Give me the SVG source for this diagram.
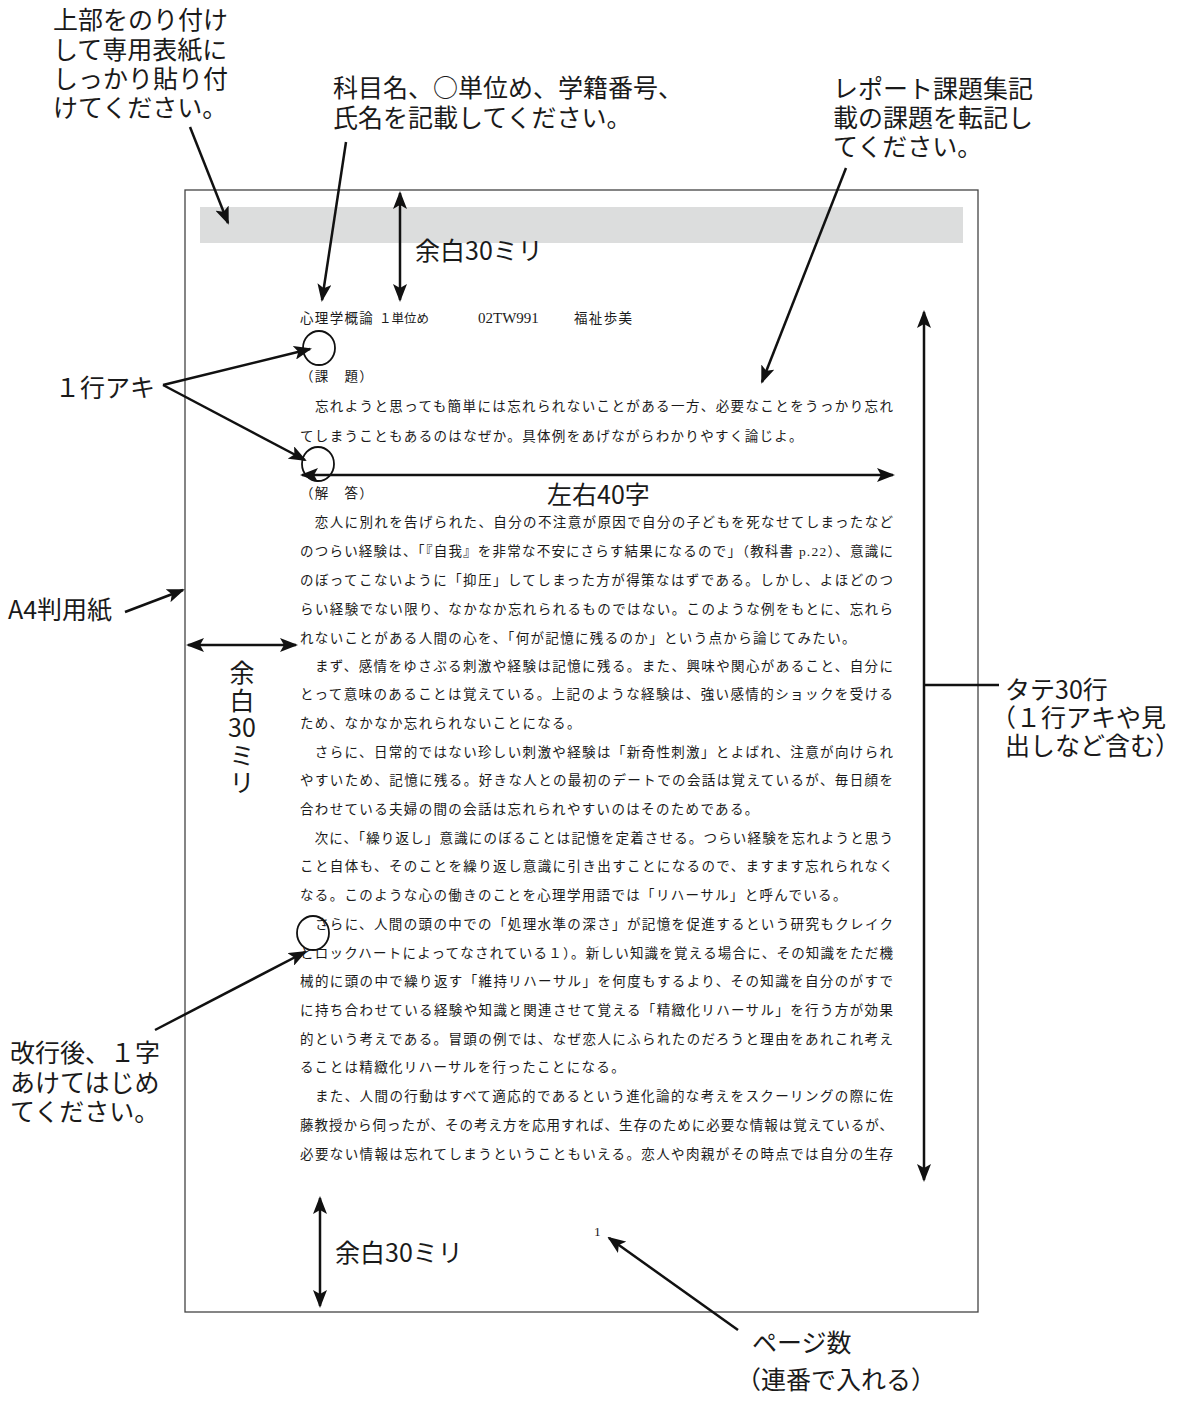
<svg xmlns="http://www.w3.org/2000/svg" width="1188" height="1411" viewBox="0 0 1188 1411">
<style>
.ann{font-family:"Noto Sans CJK JP","Noto Sans",sans-serif;font-size:25px;fill:#1a1a1a}
.body{font-family:"Liberation Serif","Noto Sans CJK JP",serif;font-size:13.5px;fill:#1a1a1a}
.part{letter-spacing:1.33px}
.ln{stroke:#111;stroke-width:2.5;fill:none}
.circ{stroke:#111;stroke-width:1.8;fill:none}
</style>
<defs>
<marker id="ah" viewBox="0 0 18 14" refX="16" refY="7" markerWidth="18" markerHeight="14" markerUnits="userSpaceOnUse" orient="auto-start-reverse">
<path d="M0,0 L18,7 L0,14 L4,7 Z" fill="#111"/>
</marker>
</defs>
<rect width="1188" height="1411" fill="#fff"/>

<g id="page">
<rect x="185" y="190" width="793" height="1122" fill="#fff" stroke="#444" stroke-width="1.3"/>
<rect x="200" y="207" width="763" height="36" fill="#dcdddd"/>
</g>

<g id="report-text">
<text class="body" y="323"><tspan x="300" class="part">心理学概論</tspan><tspan x="379" font-size="12.5">１単位め</tspan><tspan x="478" font-size="15">02TW991</tspan><tspan x="574" class="part">福祉歩美</tspan></text>
<text class="body part" x="300" y="381">（課　題）</text>
<text class="body" x="300" y="411" textLength="593" lengthAdjust="spacing">　忘れようと思っても簡単には忘れられないことがある一方、必要なことをうっかり忘れ</text>
<text class="body part" x="300" y="441">てしまうこともあるのはなぜか。具体例をあげながらわかりやすく論じよ。</text>
<text class="body part" x="300" y="498">（解　答）</text>
<text class="body" x="300" y="527" textLength="593" lengthAdjust="spacing">　恋人に別れを告げられた、自分の不注意が原因で自分の子どもを死なせてしまったなど</text>
<text class="body" x="300" y="556" textLength="593" lengthAdjust="spacing">のつらい経験は、「『自我』を非常な不安にさらす結果になるので」（教科書 p.22）、意識に</text>
<text class="body" x="300" y="585" textLength="593" lengthAdjust="spacing">のぼってこないように「抑圧」してしまった方が得策なはずである。しかし、よほどのつ</text>
<text class="body" x="300" y="614" textLength="593" lengthAdjust="spacing">らい経験でない限り、なかなか忘れられるものではない。このような例をもとに、忘れら</text>
<text class="body part" x="300" y="643">れないことがある人間の心を、「何が記憶に残るのか」という点から論じてみたい。</text>
<text class="body" x="300" y="671" textLength="593" lengthAdjust="spacing">　まず、感情をゆさぶる刺激や経験は記憶に残る。また、興味や関心があること、自分に</text>
<text class="body" x="300" y="699" textLength="593" lengthAdjust="spacing">とって意味のあることは覚えている。上記のような経験は、強い感情的ショックを受ける</text>
<text class="body part" x="300" y="728">ため、なかなか忘れられないことになる。</text>
<text class="body" x="300" y="757" textLength="593" lengthAdjust="spacing">　さらに、日常的ではない珍しい刺激や経験は「新奇性刺激」とよばれ、注意が向けられ</text>
<text class="body" x="300" y="785" textLength="593" lengthAdjust="spacing">やすいため、記憶に残る。好きな人との最初のデートでの会話は覚えているが、毎日顔を</text>
<text class="body part" x="300" y="814">合わせている夫婦の間の会話は忘れられやすいのはそのためである。</text>
<text class="body" x="300" y="843" textLength="593" lengthAdjust="spacing">　次に、「繰り返し」意識にのぼることは記憶を定着させる。つらい経験を忘れようと思う</text>
<text class="body" x="300" y="871" textLength="593" lengthAdjust="spacing">こと自体も、そのことを繰り返し意識に引き出すことになるので、ますます忘れられなく</text>
<text class="body part" x="300" y="900">なる。このような心の働きのことを心理学用語では「リハーサル」と呼んでいる。</text>
<text class="body" x="300" y="929" textLength="593" lengthAdjust="spacing">　さらに、人間の頭の中での「処理水準の深さ」が記憶を促進するという研究もクレイク</text>
<text class="body" x="300" y="958" textLength="593" lengthAdjust="spacing">とロックハートによってなされている１）。新しい知識を覚える場合に、その知識をただ機</text>
<text class="body" x="300" y="986" textLength="593" lengthAdjust="spacing">械的に頭の中で繰り返す「維持リハーサル」を何度もするより、その知識を自分のがすで</text>
<text class="body" x="300" y="1015" textLength="593" lengthAdjust="spacing">に持ち合わせている経験や知識と関連させて覚える「精緻化リハーサル」を行う方が効果</text>
<text class="body" x="300" y="1044" textLength="593" lengthAdjust="spacing">的という考えである。冒頭の例では、なぜ恋人にふられたのだろうと理由をあれこれ考え</text>
<text class="body part" x="300" y="1072">ることは精緻化リハーサルを行ったことになる。</text>
<text class="body" x="300" y="1101" textLength="593" lengthAdjust="spacing">　また、人間の行動はすべて適応的であるという進化論的な考えをスクーリングの際に佐</text>
<text class="body" x="300" y="1130" textLength="593" lengthAdjust="spacing">藤教授から伺ったが、その考え方を応用すれば、生存のために必要な情報は覚えているが、</text>
<text class="body" x="300" y="1159" textLength="593" lengthAdjust="spacing">必要ない情報は忘れてしまうということもいえる。恋人や肉親がその時点では自分の生存</text>
<text class="body" x="594" y="1236" font-size="12">1</text>
</g>

<g id="marks">
<ellipse class="circ" cx="319" cy="348" rx="16" ry="17"/>
<ellipse class="circ" cx="318" cy="464" rx="16" ry="17"/>
<ellipse class="circ" cx="313" cy="933" rx="16" ry="17"/>
</g>

<g id="labels">
<text class="ann" x="53"><tspan x="53" y="29">上部をのり付け</tspan><tspan x="53" y="59">して専用表紙に</tspan><tspan x="53" y="88">しっかり貼り付</tspan><tspan x="53" y="117">けてください。</tspan></text>
<text class="ann"><tspan x="333" y="97">科目名、○単位め、学籍番号、</tspan><tspan x="333" y="127">氏名を記載してください。</tspan></text>
<text class="ann"><tspan x="833" y="98">レポート課題集記</tspan><tspan x="833" y="127">載の課題を転記し</tspan><tspan x="833" y="156">てください。</tspan></text>
<text class="ann" x="415" y="260">余白30ミリ</text>
<text class="ann" x="55" y="397">１行アキ</text>
<text class="ann" x="547" y="504">左右40字</text>
<text class="ann" x="8" y="619">A4判用紙</text>
<text class="ann" text-anchor="middle" font-size="24"><tspan x="242" y="682">余</tspan><tspan x="242" y="710">白</tspan><tspan x="242" y="737">30</tspan><tspan x="242" y="765">ミ</tspan><tspan x="242" y="792">リ</tspan></text>
<text class="ann"><tspan x="1005" y="699">タテ30行</tspan><tspan x="991" y="727">（１行アキや見</tspan><tspan x="1005" y="755">出しなど含む）</tspan></text>
<text class="ann"><tspan x="10" y="1062">改行後、１字</tspan><tspan x="10" y="1092">あけてはじめ</tspan><tspan x="10" y="1121">てください。</tspan></text>
<text class="ann" x="335" y="1262">余白30ミリ</text>
<text class="ann"><tspan x="752" y="1352">ページ数</tspan><tspan x="736" y="1389">（連番で入れる）</tspan></text>
</g>

<g id="connectors">
<line class="ln" x1="190" y1="127" x2="228" y2="223" marker-end="url(#ah)"/>
<line class="ln" x1="346" y1="142" x2="322" y2="300" marker-end="url(#ah)"/>
<line class="ln" x1="400" y1="193" x2="400" y2="300" marker-start="url(#ah)" marker-end="url(#ah)"/>
<line class="ln" x1="846" y1="168" x2="762" y2="382" marker-end="url(#ah)"/>
<line class="ln" x1="163" y1="385" x2="310" y2="349" marker-end="url(#ah)"/>
<line class="ln" x1="163" y1="385" x2="305" y2="460" marker-end="url(#ah)"/>
<line class="ln" x1="302" y1="475" x2="893" y2="475" marker-start="url(#ah)" marker-end="url(#ah)"/>
<line class="ln" x1="125" y1="612" x2="183" y2="590" marker-end="url(#ah)"/>
<line class="ln" x1="188" y1="645" x2="296" y2="645" marker-start="url(#ah)" marker-end="url(#ah)"/>
<line class="ln" x1="924" y1="312" x2="924" y2="1180" marker-start="url(#ah)" marker-end="url(#ah)"/>
<line class="ln" x1="924" y1="685" x2="999" y2="685"/>
<line class="ln" x1="155" y1="1030" x2="305" y2="952" marker-end="url(#ah)"/>
<line class="ln" x1="320" y1="1198" x2="320" y2="1306" marker-start="url(#ah)" marker-end="url(#ah)"/>
<line class="ln" x1="738" y1="1330" x2="609" y2="1238" marker-end="url(#ah)"/>
</g>
</svg>
